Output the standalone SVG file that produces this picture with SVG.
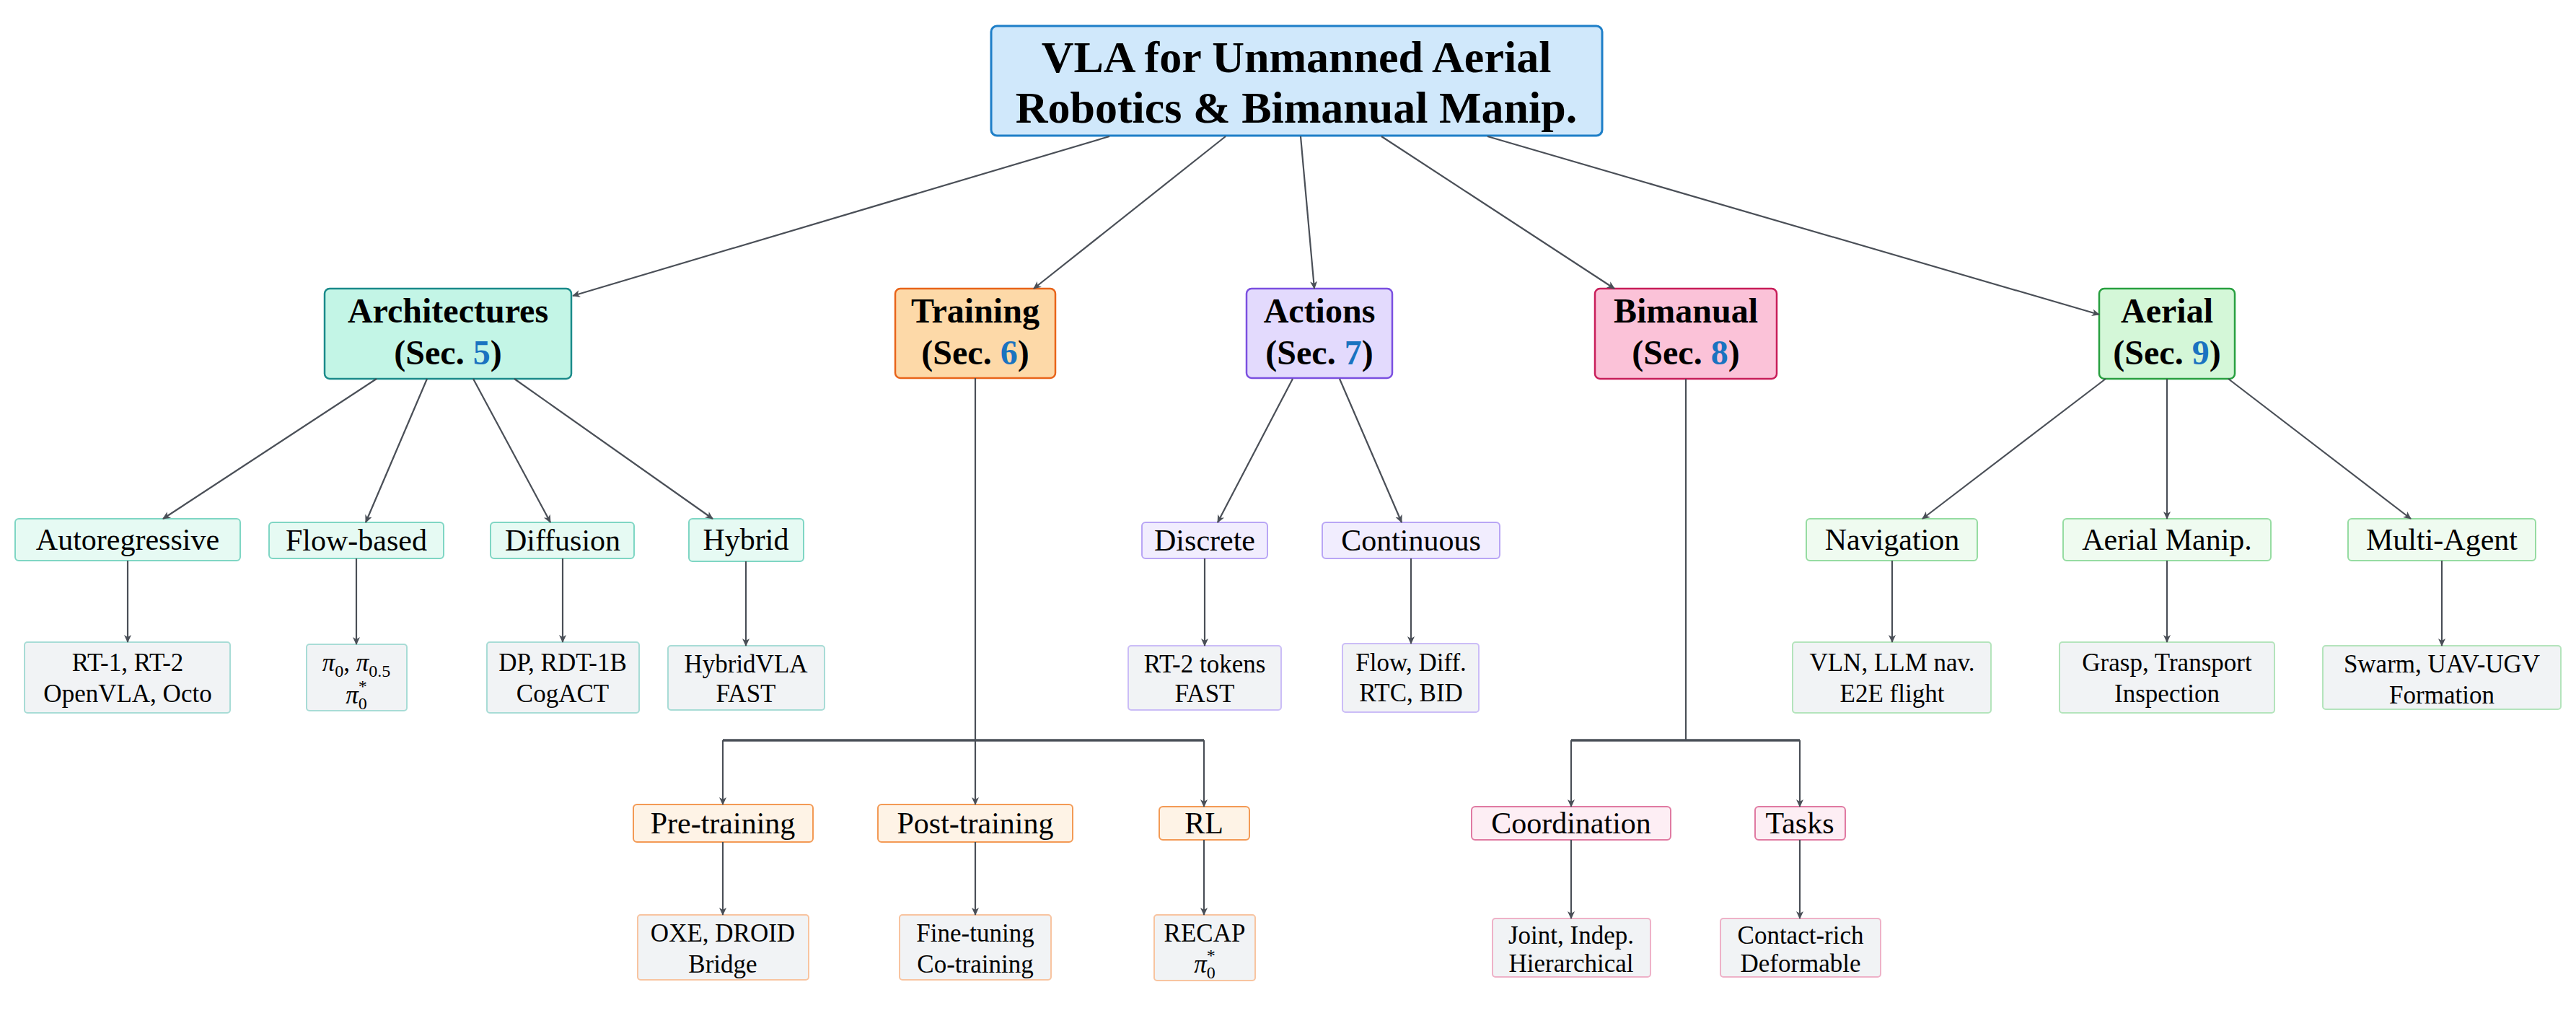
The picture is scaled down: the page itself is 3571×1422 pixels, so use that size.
<svg xmlns="http://www.w3.org/2000/svg" width="3571" height="1422" viewBox="0 0 3571 1422">
<style>
text{font-family:"Liberation Serif","DejaVu Serif",serif;text-anchor:middle;fill:#000}
.t0{font-size:62px;font-weight:bold}
.t1{font-size:48px;font-weight:bold}
.t2{font-size:42px}
.t3{font-size:35px}
.sec{fill:#1a73c0}
.c line,.c path{stroke:#4a4f57;stroke-width:2.2;fill:none}
.c .bus{stroke-width:3.5}
</style>
<defs>
<marker id="a" markerWidth="12" markerHeight="12" refX="10" refY="5" orient="auto" markerUnits="userSpaceOnUse" viewBox="0 0 12 10"><path d="M0,0 L11,5 L0,10 L3,5 Z" fill="#4a4f57"/></marker>
</defs>
<g id="root"><rect x="1374" y="36" width="847" height="152" rx="8" fill="#d0e8fb" stroke="#1e7fc8" stroke-width="3"/><text class="t0" x="1797" y="100">VLA for Unmanned Aerial</text><text class="t0" x="1797" y="170">Robotics &amp; Bimanual Manip.</text></g>
<g id="arch"><rect x="450" y="400" width="342" height="125" rx="7" fill="#c3f5e6" stroke="#1a8a8a" stroke-width="2.5"/><text class="t1" x="621" y="447">Architectures</text><text class="t1" x="621" y="505">(Sec. <tspan class="sec">5</tspan>)</text></g>
<g id="train"><rect x="1241" y="400" width="222" height="124" rx="7" fill="#fdd9a8" stroke="#e8641a" stroke-width="2.5"/><text class="t1" x="1352" y="447">Training</text><text class="t1" x="1352" y="505">(Sec. <tspan class="sec">6</tspan>)</text></g>
<g id="act"><rect x="1728" y="400" width="202" height="124" rx="7" fill="#e3dafd" stroke="#7b4fe0" stroke-width="2.5"/><text class="t1" x="1829" y="447">Actions</text><text class="t1" x="1829" y="505">(Sec. <tspan class="sec">7</tspan>)</text></g>
<g id="bim"><rect x="2211" y="400" width="252" height="125" rx="7" fill="#fbc2d8" stroke="#c81e5a" stroke-width="2.5"/><text class="t1" x="2337" y="447">Bimanual</text><text class="t1" x="2337" y="505">(Sec. <tspan class="sec">8</tspan>)</text></g>
<g id="aer"><rect x="2910" y="400" width="188" height="125" rx="7" fill="#d4f7d8" stroke="#28a040" stroke-width="2.5"/><text class="t1" x="3004" y="447">Aerial</text><text class="t1" x="3004" y="505">(Sec. <tspan class="sec">9</tspan>)</text></g>

<g id="autoreg"><rect x="21" y="719" width="312" height="58" rx="5" fill="#e6faf3" stroke="#7fd6c4" stroke-width="2"/><text class="t2" x="177" y="762">Autoregressive</text></g>
<g id="flow"><rect x="373" y="724" width="242" height="50" rx="5" fill="#e6faf3" stroke="#7fd6c4" stroke-width="2"/><text class="t2" x="494" y="763">Flow-based</text></g>
<g id="diff"><rect x="680" y="724" width="199" height="50" rx="5" fill="#e6faf3" stroke="#7fd6c4" stroke-width="2"/><text class="t2" x="780" y="763">Diffusion</text></g>
<g id="hyb"><rect x="955" y="719" width="159" height="59" rx="5" fill="#e6faf3" stroke="#7fd6c4" stroke-width="2"/><text class="t2" x="1034" y="762">Hybrid</text></g>
<g id="disc"><rect x="1583" y="724" width="174" height="50" rx="5" fill="#f1edfe" stroke="#b9a6f5" stroke-width="2"/><text class="t2" x="1670" y="763">Discrete</text></g>
<g id="cont"><rect x="1833" y="724" width="246" height="50" rx="5" fill="#f1edfe" stroke="#b9a6f5" stroke-width="2"/><text class="t2" x="1956" y="763">Continuous</text></g>
<g id="nav"><rect x="2504" y="719" width="237" height="58" rx="5" fill="#effbf0" stroke="#96dca2" stroke-width="2"/><text class="t2" x="2623" y="762">Navigation</text></g>
<g id="amanip"><rect x="2860" y="719" width="288" height="58" rx="5" fill="#effbf0" stroke="#96dca2" stroke-width="2"/><text class="t2" x="3004" y="762">Aerial Manip.</text></g>
<g id="multi"><rect x="3255" y="719" width="260" height="58" rx="5" fill="#effbf0" stroke="#96dca2" stroke-width="2"/><text class="t2" x="3385" y="762">Multi-Agent</text></g>

<g id="l-rt"><rect x="34" y="890" width="285" height="98" rx="4" fill="#f1f3f5" stroke="#a8dcd6" stroke-width="2"/><text class="t3" x="177" y="930">RT-1, RT-2</text><text class="t3" x="177" y="973">OpenVLA, Octo</text></g>
<g id="l-pi"><rect x="425" y="893" width="139" height="92" rx="4" fill="#f1f3f5" stroke="#a8dcd6" stroke-width="2"/><text class="t3" x="494" y="930"><tspan font-style="italic">π</tspan><tspan font-size="24" dy="8">0</tspan><tspan dy="-8">, </tspan><tspan font-style="italic">π</tspan><tspan font-size="24" dy="8">0.5</tspan></text><text class="t3" x="494" y="975"><tspan font-style="italic">π</tspan><tspan font-size="24" dy="8">0</tspan><tspan font-size="24" dx="-12" dy="-24">*</tspan></text></g>
<g id="l-dp"><rect x="675" y="890" width="211" height="98" rx="4" fill="#f1f3f5" stroke="#a8dcd6" stroke-width="2"/><text class="t3" x="780" y="930">DP, RDT-1B</text><text class="t3" x="780" y="973">CogACT</text></g>
<g id="l-hv"><rect x="926" y="895" width="217" height="89" rx="4" fill="#f1f3f5" stroke="#a8dcd6" stroke-width="2"/><text class="t3" x="1034" y="932">HybridVLA</text><text class="t3" x="1034" y="973">FAST</text></g>
<g id="l-rt2"><rect x="1564" y="895" width="212" height="89" rx="4" fill="#f1f3f5" stroke="#cbbdf7" stroke-width="2"/><text class="t3" x="1670" y="932">RT-2 tokens</text><text class="t3" x="1670" y="973">FAST</text></g>
<g id="l-fd"><rect x="1861" y="892" width="189" height="95" rx="4" fill="#f1f3f5" stroke="#cbbdf7" stroke-width="2"/><text class="t3" x="1956" y="930">Flow, Diff.</text><text class="t3" x="1956" y="972">RTC, BID</text></g>
<g id="l-vln"><rect x="2485" y="890" width="275" height="98" rx="4" fill="#f1f3f5" stroke="#b4e4bc" stroke-width="2"/><text class="t3" x="2623" y="930">VLN, LLM nav.</text><text class="t3" x="2623" y="973">E2E flight</text></g>
<g id="l-gr"><rect x="2855" y="890" width="298" height="98" rx="4" fill="#f1f3f5" stroke="#b4e4bc" stroke-width="2"/><text class="t3" x="3004" y="930">Grasp, Transport</text><text class="t3" x="3004" y="973">Inspection</text></g>
<g id="l-sw"><rect x="3220" y="895" width="330" height="88" rx="4" fill="#f1f3f5" stroke="#b4e4bc" stroke-width="2"/><text class="t3" x="3385" y="932">Swarm, UAV-UGV</text><text class="t3" x="3385" y="975">Formation</text></g>

<g id="pre"><rect x="878" y="1115" width="249" height="52" rx="5" fill="#fef3e6" stroke="#f39a55" stroke-width="2"/><text class="t2" x="1002" y="1155">Pre-training</text></g>
<g id="post"><rect x="1217" y="1115" width="270" height="52" rx="5" fill="#fef3e6" stroke="#f39a55" stroke-width="2"/><text class="t2" x="1352" y="1155">Post-training</text></g>
<g id="rl"><rect x="1607" y="1118" width="125" height="46" rx="5" fill="#fef3e6" stroke="#f39a55" stroke-width="2"/><text class="t2" x="1669" y="1155">RL</text></g>
<g id="coord"><rect x="2040" y="1118" width="276" height="46" rx="5" fill="#fdeef4" stroke="#e07aa2" stroke-width="2"/><text class="t2" x="2178" y="1155">Coordination</text></g>
<g id="tasks"><rect x="2433" y="1118" width="125" height="46" rx="5" fill="#fdeef4" stroke="#e07aa2" stroke-width="2"/><text class="t2" x="2495" y="1155">Tasks</text></g>

<g id="l-oxe"><rect x="884" y="1268" width="237" height="90" rx="4" fill="#f1f3f5" stroke="#f8c4a0" stroke-width="2"/><text class="t3" x="1002" y="1305">OXE, DROID</text><text class="t3" x="1002" y="1348">Bridge</text></g>
<g id="l-ft"><rect x="1247" y="1268" width="210" height="90" rx="4" fill="#f1f3f5" stroke="#f8c4a0" stroke-width="2"/><text class="t3" x="1352" y="1305">Fine-tuning</text><text class="t3" x="1352" y="1348">Co-training</text></g>
<g id="l-rc"><rect x="1600" y="1268" width="140" height="91" rx="4" fill="#f1f3f5" stroke="#f8c4a0" stroke-width="2"/><text class="t3" x="1670" y="1305">RECAP</text><text class="t3" x="1670" y="1348"><tspan font-style="italic">π</tspan><tspan font-size="24" dy="8">0</tspan><tspan font-size="24" dx="-12" dy="-24">*</tspan></text></g>
<g id="l-jt"><rect x="2069" y="1273" width="219" height="81" rx="4" fill="#f1f3f5" stroke="#eeb2c8" stroke-width="2"/><text class="t3" x="2178" y="1308">Joint, Indep.</text><text class="t3" x="2178" y="1347">Hierarchical</text></g>
<g id="l-cr"><rect x="2385" y="1273" width="222" height="81" rx="4" fill="#f1f3f5" stroke="#eeb2c8" stroke-width="2"/><text class="t3" x="2496" y="1308">Contact-rich</text><text class="t3" x="2496" y="1347">Deformable</text></g>

<g id="connectors" class="c">
<line x1="1538" y1="189" x2="794" y2="410" marker-end="url(#a)"/>
<line x1="1699" y1="189" x2="1433" y2="400" marker-end="url(#a)"/>
<line x1="1803" y1="189" x2="1822" y2="400" marker-end="url(#a)"/>
<line x1="1915" y1="189" x2="2238" y2="400" marker-end="url(#a)"/>
<line x1="2062" y1="189" x2="2910" y2="436" marker-end="url(#a)"/>
<line x1="522" y1="525" x2="226" y2="719" marker-end="url(#a)"/>
<line x1="592" y1="525" x2="507" y2="724" marker-end="url(#a)"/>
<line x1="656" y1="525" x2="763" y2="724" marker-end="url(#a)"/>
<line x1="713" y1="525" x2="988" y2="719" marker-end="url(#a)"/>
<line x1="1792" y1="525" x2="1688" y2="724" marker-end="url(#a)"/>
<line x1="1857" y1="525" x2="1943" y2="724" marker-end="url(#a)"/>
<line x1="2919" y1="525" x2="2665" y2="719" marker-end="url(#a)"/>
<line x1="3004" y1="525" x2="3004" y2="719" marker-end="url(#a)"/>
<line x1="3089" y1="525" x2="3342" y2="719" marker-end="url(#a)"/>
<line x1="177" y1="777" x2="177" y2="890" marker-end="url(#a)"/>
<line x1="494" y1="774" x2="494" y2="893" marker-end="url(#a)"/>
<line x1="780" y1="774" x2="780" y2="890" marker-end="url(#a)"/>
<line x1="1034" y1="778" x2="1034" y2="895" marker-end="url(#a)"/>
<line x1="1670" y1="774" x2="1670" y2="895" marker-end="url(#a)"/>
<line x1="1956" y1="774" x2="1956" y2="892" marker-end="url(#a)"/>
<line x1="2623" y1="777" x2="2623" y2="890" marker-end="url(#a)"/>
<line x1="3004" y1="777" x2="3004" y2="890" marker-end="url(#a)"/>
<line x1="3385" y1="777" x2="3385" y2="895" marker-end="url(#a)"/>
<line x1="1352" y1="524" x2="1352" y2="1115" marker-end="url(#a)"/>
<path class="bus" d="M1002,1026 H1669"/>
<line x1="1002" y1="1026" x2="1002" y2="1115" marker-end="url(#a)"/>
<line x1="1669" y1="1026" x2="1669" y2="1118" marker-end="url(#a)"/>
<line x1="2337" y1="525" x2="2337" y2="1026"/>
<path class="bus" d="M2178,1026 H2495"/>
<line x1="2178" y1="1026" x2="2178" y2="1118" marker-end="url(#a)"/>
<line x1="2495" y1="1026" x2="2495" y2="1118" marker-end="url(#a)"/>
<line x1="1002" y1="1167" x2="1002" y2="1268" marker-end="url(#a)"/>
<line x1="1352" y1="1167" x2="1352" y2="1268" marker-end="url(#a)"/>
<line x1="1669" y1="1164" x2="1669" y2="1268" marker-end="url(#a)"/>
<line x1="2178" y1="1164" x2="2178" y2="1273" marker-end="url(#a)"/>
<line x1="2495" y1="1164" x2="2495" y2="1273" marker-end="url(#a)"/>
</g>
</svg>
